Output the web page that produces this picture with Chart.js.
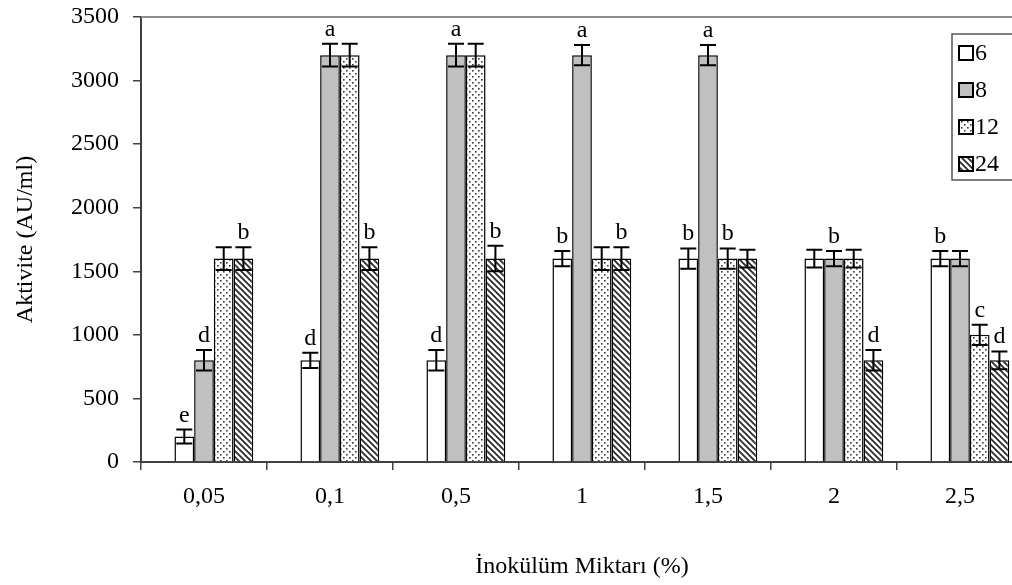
<!DOCTYPE html>
<html>
<head>
<meta charset="utf-8">
<script src="https://cdn.jsdelivr.net/npm/chart.js@4.4.1/dist/chart.umd.min.js"></script>
<style>
  html, body { margin: 0; padding: 0; background: #fff; overflow: hidden; }
  #wrap { width: 1023px; height: 585px; }
</style>
</head>
<body>
<div id="wrap"><canvas id="myChart"></canvas></div>
<script>
// inoculum amounts (%) and incubation hours
const doses = ['0,05', '0,1', '0,5', '1', '1,5', '2', '2,5']
const hours = ['6', '8', '12', '24']

// activity (AU/ml) per hour
const act6  = [200, 800, 800, 1600, 1600, 1600, 1600]
const act8  = [800, 3200, 3200, 3200, 3200, 1600, 1600]
const act12 = [1600, 3200, 3200, 1600, 1600, 1600, 1000]
const act24 = [1600, 1600, 1600, 1600, 1600, 800, 800]

// error bars
const err6  = [55, 60, 80, 60, 80, 70, 60]
const err8  = [80, 90, 90, 80, 80, 60, 60]
const err12 = [90, 90, 90, 90, 80, 70, 80]
const err24 = [90, 90, 100, 90, 70, 80, 70]

// significance letters
const let6  = ['e', 'd', 'd', 'b', 'b', '', 'b']
const let8  = ['d', 'a', 'a', 'a', 'a', 'b', '']
const let12 = ['', '', '', '', 'b', '', 'c']
const let24 = ['b', 'b', 'b', 'b', '', 'd', 'd']

// empty slot so the groups sit right of centre like the original
const spacer = [null, null, null, null, null, null, null]

const FONT = '"Liberation Serif", "Times New Roman", serif'
const FS = 24

function makeTile(draw) {
  const c = document.createElement('canvas')
  c.width = 6
  c.height = 6
  const g = c.getContext('2d')
  g.fillStyle = '#fff'
  g.fillRect(0, 0, 6, 6)
  draw(g)
  return document.getElementById('myChart').getContext('2d').createPattern(c, 'repeat')
}

const dots = makeTile(g => {
  g.fillStyle = '#3a3a3a'
  g.fillRect(1, 1, 1.6, 1.6)
  g.fillRect(4, 4, 1.6, 1.6)
})

const hatch = makeTile(g => {
  g.strokeStyle = '#2a2a2a'
  g.lineWidth = 1.8
  g.beginPath()
  g.moveTo(-1, -1); g.lineTo(7, 7)
  g.moveTo(5, -1); g.lineTo(7, 1)
  g.moveTo(-1, 5); g.lineTo(1, 7)
  g.stroke()
})

const fills = ['#ffffff', '#c0c0c0', dots, hatch]

const errorBars = {
  id: 'errorBars',
  afterDatasetsDraw(chart) {
    const ctx = chart.ctx
    const y = chart.scales.y
    ctx.save()
    ctx.strokeStyle = '#000'
    ctx.fillStyle = '#000'
    ctx.lineWidth = 2
    ctx.font = FS + 'px ' + FONT
    ctx.textAlign = 'center'
    ctx.textBaseline = 'alphabetic'
    chart.data.datasets.forEach((ds, i) => {
      if (!ds.errors) return
      chart.getDatasetMeta(i).data.forEach((bar, j) => {
        const v = ds.data[j]
        const top = y.getPixelForValue(v + ds.errors[j])
        const bot = y.getPixelForValue(v - ds.errors[j])
        const x = bar.x
        ctx.beginPath()
        ctx.moveTo(x, top); ctx.lineTo(x, bot)
        ctx.moveTo(x - 8, top); ctx.lineTo(x + 8, top)
        ctx.moveTo(x - 8, bot); ctx.lineTo(x + 8, bot)
        ctx.stroke()
        if (ds.letters[j]) ctx.fillText(ds.letters[j], x, top - 8)
      })
    })
    ctx.restore()
  }
}

const frameAndLegend = {
  id: 'frameAndLegend',
  afterDraw(chart) {
    const ctx = chart.ctx
    const a = chart.chartArea
    ctx.save()
    // grey top border
    ctx.strokeStyle = '#8c8c8c'
    ctx.lineWidth = 2
    ctx.beginPath()
    ctx.moveTo(a.left, a.top); ctx.lineTo(a.right, a.top)
    ctx.stroke()
    // legend box
    const bx = a.right - 71, by = a.top + 17
    ctx.fillStyle = '#fff'
    ctx.fillRect(bx, by, 80, 146)
    ctx.strokeStyle = '#555'
    ctx.lineWidth = 1.5
    ctx.strokeRect(bx, by, 80, 146)
    ctx.font = FS + 'px ' + FONT
    ctx.textBaseline = 'middle'
    ctx.textAlign = 'left'
    hours.forEach((h, k) => {
      const cy = by + 19 + k * 37
      ctx.fillStyle = fills[k]
      ctx.fillRect(bx + 7, cy - 7, 14, 14)
      ctx.strokeStyle = '#000'
      ctx.lineWidth = 2
      ctx.strokeRect(bx + 7, cy - 7, 14, 14)
      ctx.fillStyle = '#000'
      ctx.fillText(h, bx + 23, cy + 1)
    })
    ctx.restore()
  }
}

const ch = document.getElementById('myChart')

new Chart(ch, {
  type: 'bar',
  data: {
    labels: doses,
    datasets: [
      { label: '', data: spacer },
      { label: hours[0], data: act6, errors: err6, letters: let6, backgroundColor: fills[0] },
      { label: hours[1], data: act8, errors: err8, letters: let8, backgroundColor: fills[1] },
      { label: hours[2], data: act12, errors: err12, letters: let12, backgroundColor: fills[2] },
      { label: hours[3], data: act24, errors: err24, letters: let24, backgroundColor: fills[3] },
    ],
  },
  options: {
    responsive: true,
    maintainAspectRatio: false,
    animation: false,
    datasets: {
      bar: {
        barPercentage: 1,
        categoryPercentage: 0.782,
        borderColor: '#000',
        borderWidth: 1.5,
      }
    },
    layout: { padding: { top: 17, right: 0, bottom: 0, left: 0 } },
    plugins: {
      legend: { display: false },
      tooltip: { enabled: false },
    },
    scales: {
      x: {
        afterFit(scale) { scale.height = 123; scale.paddingRight = 0 },
        grid: { offset: true, drawOnChartArea: false, tickLength: 8, color: '#404040', lineWidth: 1.5 },
        border: { color: '#404040', width: 2 },
        ticks: { color: '#000', font: { family: FONT, size: FS }, padding: 12, maxRotation: 0 },
        title: {
          display: true,
          text: 'İnokülüm Miktarı (%)',
          color: '#000',
          font: { family: FONT, size: FS },
          padding: { top: 0, bottom: 4 },
        }
      },
      y: {
        min: 0,
        max: 3500,
        afterFit(scale) { scale.width = 141; scale.paddingTop = 0 },
        grid: { drawOnChartArea: false, tickLength: 8, color: '#404040', lineWidth: 1.5 },
        border: { color: '#404040', width: 2 },
        ticks: {
          stepSize: 500,
          color: '#000',
          font: { family: FONT, size: FS },
          padding: 14,
          callback: v => String(v),
        },
        title: {
          display: true,
          text: 'Aktivite (AU/ml)',
          color: '#000',
          font: { family: FONT, size: FS },
          padding: { top: 11, bottom: 0 },
        }
      }
    }
  },
  plugins: [errorBars, frameAndLegend]
})
</script>
</body>
</html>
